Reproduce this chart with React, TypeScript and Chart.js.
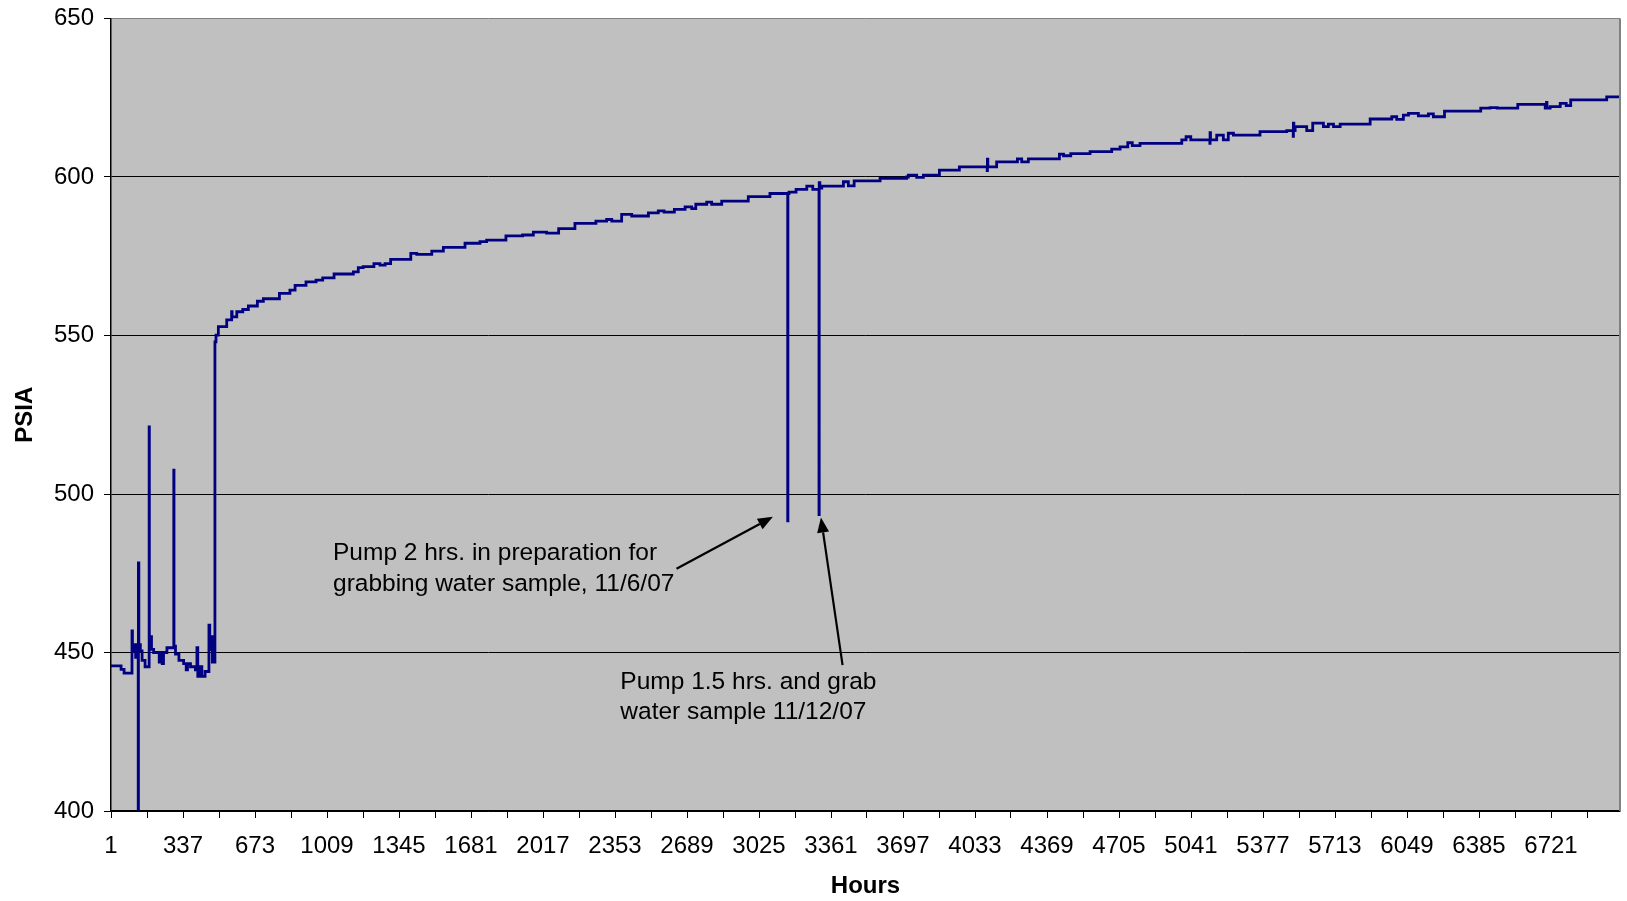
import React, { useEffect, useRef } from "react";
import { Chart, registerables } from "chart.js";

Chart.register(...registerables);

// ---- Data (hour at which each new pressure level begins, PSIA) ----
const HOURS = [
  1, 48, 62, 99, 101, 108, 116, 128, 129, 131, 138, 146, 160, 179, 180, 186, 190, 200, 226, 232, 240, 246, 262, 294, 295,
  302, 318, 340, 352, 358, 372, 395, 402, 406, 415, 425, 440, 458, 462, 470, 474,
  486, 491, 502, 541, 564, 566, 588, 616, 642, 684, 712, 787, 836, 860, 911, 958, 989, 1042, 1132, 1155, 1178, 1228,
  1256, 1280, 1306, 1400, 1428, 1498, 1552, 1653, 1723, 1754, 1844, 1922, 1972, 2034, 2090, 2166, 2264, 2314, 2338,
  2384, 2431, 2509, 2555, 2582, 2630, 2680, 2711, 2730, 2781, 2804, 2851, 2975, 3076, 3159, 3160, 3165, 3198, 3248,
  3276, 3305, 3306, 3309, 3318, 3419, 3442, 3469, 3590, 3714, 3722, 3761, 3792, 3867, 3960, 4090, 4091, 4093, 4134,
  4231, 4251, 4282, 4427, 4446, 4480, 4570, 4671, 4710, 4746, 4767, 4803, 4998, 5018, 5040, 5129, 5130, 5132, 5161,
  5192, 5215, 5239, 5363, 5488, 5518, 5519, 5521, 5527, 5581, 5609, 5659, 5682, 5706, 5737, 5877, 5978, 6001, 6032,
  6056, 6102, 6149, 6172, 6224, 6393, 6437, 6470, 6566, 6694, 6700, 6702, 6717, 6764, 6792, 6813, 6981, 7043,
];
const PSIA = [
  445.8, 444.7, 443.5, 456.8, 450.5, 452.5, 448.5, 400, 478.3, 452.5, 450.5, 447.5, 445.5, 521.2, 453.5, 455, 451, 450,
  447, 450, 446.5, 450, 451.5, 507.5, 452, 449.5, 447.5, 446.5, 444.5, 446.5, 445.5, 444.5, 451.5, 442.5, 445.5, 442.5,
  444, 458.6, 451, 455, 447,
  548.0, 550.1, 552.8, 554.9, 557.5, 555.9, 557.5, 558.2, 559.3, 560.8, 561.6, 563.3, 564.3, 565.8, 566.9, 567.5, 568.2,
  569.4, 570.1, 571.4, 571.7, 572.7, 572.2, 572.7, 574.0, 575.9, 575.6, 576.6, 577.8, 579.1, 579.6, 580.1, 581.4, 581.7,
  582.6, 582.3, 583.7, 585.4, 586.1, 586.6, 586.1, 588.2, 587.7, 588.7, 589.3, 588.9, 589.8, 590.6, 590.0, 591.4, 592.1,
  591.4, 592.4, 593.8, 594.8, 491.5, 594.8, 595.2, 596.1, 597.1, 596.1, 493.5, 598.2, 596.5, 597.1, 598.5, 597.2, 598.8,
  599.6, 600.0, 600.6, 599.9, 600.6, 602.2, 603.2, 602.0, 605.6, 603.2, 604.8, 605.7, 604.8, 605.7, 607.2, 606.7, 607.4,
  608.0, 608.8, 609.5, 610.8, 609.9, 610.6, 611.7, 612.7, 611.7, 610.6, 614.0, 611.7, 613.2, 611.7, 613.8, 613.2, 614.3,
  614.6, 612.8, 617.0, 614.6, 615.9, 614.6, 617.0, 615.9, 616.7, 615.9, 616.7, 618.3, 619.0, 618.2, 619.5, 620.1, 619.3,
  619.9, 619.0, 620.8, 621.7, 621.9, 621.7, 622.9, 621.7, 623.5, 621.7, 622.2, 623.2, 622.5, 624.3, 625.3, 625.3,
];

const X_TICK_LABELS = [1, 337, 673, 1009, 1345, 1681, 2017, 2353, 2689, 3025, 3361, 3697, 4033, 4369, 4705, 5041, 5377, 5713, 6049, 6385, 6721];
const X_MINOR_TICKS = X_TICK_LABELS.map((v) => v + 168);
const X_MIN = 1;
const X_MAX = 7043;
const Y_MIN = 400;
const Y_MAX = 650;
const Y_STEP = 50;

const X_TITLE = "Hours";
const Y_TITLE = "PSIA";

// annotations in data units
const NOTES = [
  { lines: ["Pump 2 hrs. in preparation for", "grabbing water sample, 11/6/07"], x: 1037, y: [481.3, 471.5] },
  { lines: ["Pump 1.5 hrs. and grab", "water sample 11/12/07"], x: 2378, y: [440.7, 431.0] },
];
const ARROWS = [
  { from: [2640, 476.4], to: [3090, 492.8] },
  { from: [3415, 446.0], to: [3314, 492.6] },
];

const FONT = "'Liberation Sans', Arial, sans-serif";

const plotPlugin = {
  id: "plotDecor",
  beforeDraw(chart: any) {
    const { ctx, chartArea } = chart;
    const { left, top, right, bottom } = chartArea;
    ctx.save();
    ctx.fillStyle = "#C0C0C0";
    ctx.fillRect(left, top, right - left, bottom - top);
    ctx.restore();
  },
  afterDraw(chart: any) {
    const { ctx, chartArea, scales } = chart;
    const { top, right, bottom } = chartArea;
    ctx.save();
    ctx.strokeStyle = "#808080";
    ctx.lineWidth = 2;
    ctx.beginPath();
    ctx.moveTo(right, top);
    ctx.lineTo(right, bottom);
    ctx.stroke();

    const xs = scales.x;
    const ys = scales.y;
    ctx.fillStyle = "#000";
    ctx.font = `24.5px ${FONT}`;
    ctx.textAlign = "left";
    ctx.textBaseline = "middle";
    NOTES.forEach((n) => {
      n.lines.forEach((t, i) => {
        ctx.fillText(t, xs.getPixelForValue(n.x), ys.getPixelForValue(n.y[i]));
      });
    });
    ARROWS.forEach((a) => {
      const x1 = xs.getPixelForValue(a.from[0]);
      const y1 = ys.getPixelForValue(a.from[1]);
      const x2 = xs.getPixelForValue(a.to[0]);
      const y2 = ys.getPixelForValue(a.to[1]);
      const ang = Math.atan2(y2 - y1, x2 - x1);
      const L = 15;
      const W = 6;
      const bx = x2 - L * Math.cos(ang);
      const by = y2 - L * Math.sin(ang);
      ctx.strokeStyle = "#000";
      ctx.lineWidth = 2.2;
      ctx.beginPath();
      ctx.moveTo(x1, y1);
      ctx.lineTo(bx, by);
      ctx.stroke();
      ctx.beginPath();
      ctx.moveTo(x2, y2);
      ctx.lineTo(bx + W * Math.sin(ang), by - W * Math.cos(ang));
      ctx.lineTo(bx - W * Math.sin(ang), by + W * Math.cos(ang));
      ctx.closePath();
      ctx.fill();
    });
    ctx.restore();
  },
};

export default function App() {
  const ref = useRef<HTMLCanvasElement | null>(null);

  useEffect(() => {
    if (!ref.current) return;
    const data = HOURS.map((h, i) => ({ x: h, y: PSIA[i] }));
    const chart = new Chart(ref.current, {
      type: "line",
      data: {
        datasets: [
          {
            data,
            borderColor: "#000080",
            borderWidth: 2.8,
            pointRadius: 0,
            stepped: "before",
            tension: 0,
            fill: false,
          },
        ],
      },
      options: {
        animation: false,
        responsive: false,
        devicePixelRatio: 1,
        layout: { padding: { top: 18.5, right: 7, left: 0, bottom: 0 } },
        plugins: { legend: { display: false }, tooltip: { enabled: false } },
        font: { family: FONT, size: 24 },
        scales: {
          x: {
            type: "linear",
            min: X_MIN,
            max: X_MAX,
            afterBuildTicks: (scale: any) => {
              const vals = [...X_TICK_LABELS, ...X_MINOR_TICKS].filter((v) => v <= X_MAX).sort((a, b) => a - b);
              scale.ticks = vals.map((v) => ({ value: v }));
            },
            afterFit: (scale: any) => {
              scale.height = 90;
              scale.paddingLeft = 0;
              scale.paddingRight = 0;
            },
            ticks: {
              autoSkip: false,
              maxRotation: 0,
              padding: 14,
              color: "#000",
              font: { family: FONT, size: 24 },
              callback: (v: any) => (X_TICK_LABELS.includes(Number(v)) ? String(v) : ""),
            },
            grid: { drawOnChartArea: false, drawTicks: true, tickLength: 7, color: "#000", tickColor: "#000" },
            border: { display: true, color: "#000", width: 1.5 },
            title: {
              display: true,
              text: X_TITLE,
              color: "#000",
              font: { family: FONT, size: 24, weight: "bold" },
              padding: { top: 0, bottom: 0 },
            },
          },
          y: {
            type: "linear",
            min: Y_MIN,
            max: Y_MAX,
            afterFit: (scale: any) => {
              scale.width = 111;
              scale.paddingTop = 0;
              scale.paddingBottom = 0;
            },
            ticks: {
              stepSize: Y_STEP,
              padding: 10,
              color: "#000",
              font: { family: FONT, size: 24 },
            },
            grid: {
              drawTicks: true,
              tickLength: 7,
              color: (c: any) => (c.tick && c.tick.value === Y_MAX ? "#808080" : "#000"),
              tickColor: "#000",
              lineWidth: 1,
            },
            border: { display: true, color: "#000", width: 1.5 },
            title: {
              display: true,
              text: Y_TITLE,
              color: "#000",
              font: { family: FONT, size: 24, weight: "bold" },
              padding: { top: 11, bottom: 0 },
            },
          },
        },
      },
      plugins: [plotPlugin],
    } as any);
    return () => chart.destroy();
  }, []);

  return (
    <div style={{ position: "absolute", left: 0, top: 0, width: 1627, height: 901, background: "#fff" }}>
      <canvas ref={ref} width={1627} height={901} style={{ display: "block" }} />
    </div>
  );
}
